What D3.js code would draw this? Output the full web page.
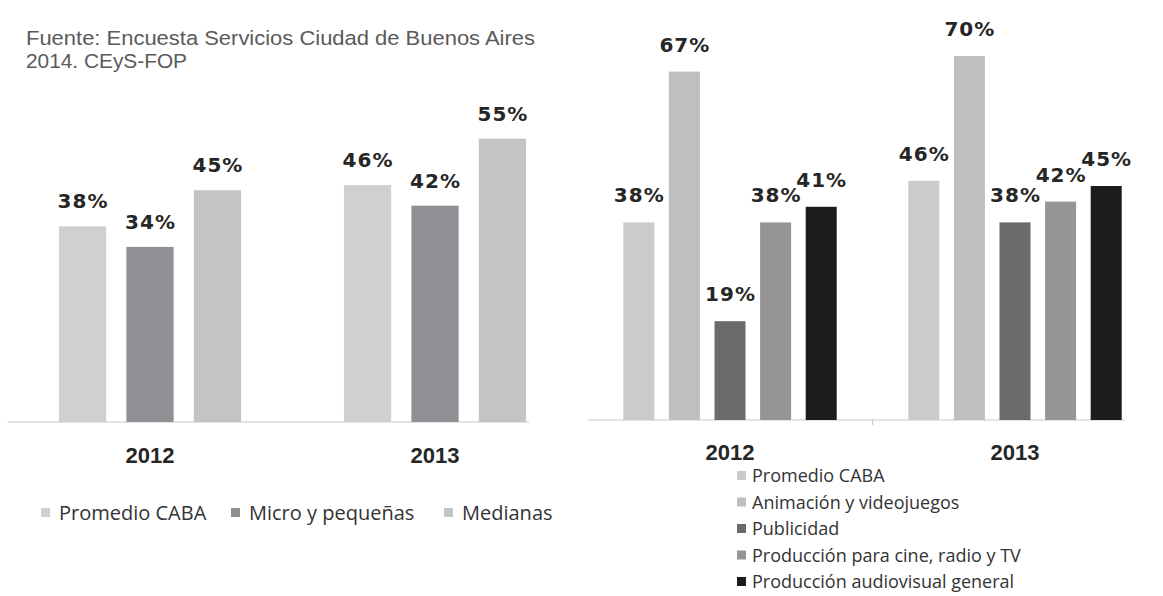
<!DOCTYPE html>
<html lang="es">
<head>
<meta charset="utf-8">
<title>Encuesta Servicios Ciudad de Buenos Aires 2014</title>
<script src="https://cdn.jsdelivr.net/npm/d3@7/dist/d3.min.js"></script>
<style>
  html, body { margin: 0; padding: 0; background: #ffffff; }
  svg { display: block; }
</style>
</head>
<body>
<svg id="chart" width="1163" height="596"></svg>
<script>
// ---- data ----
const years = ["2012", "2013"];

// left panel: by company size
const sizeSeries = ["Promedio CABA", "Micro y pequeñas", "Medianas"];
const sizeValues2012 = [38, 34, 45];
const sizeValues2013 = [46, 42, 55];

// right panel: by audiovisual sub-sector
const sectorSeries = [
  "Promedio CABA",
  "Animación y videojuegos",
  "Publicidad",
  "Producción para cine, radio y TV",
  "Producción audiovisual general"
];
const sectorValues2012 = [38, 67, 19, 38, 41];
const sectorValues2013 = [46, 70, 38, 42, 45];

const sourceLines = ["Fuente: Encuesta Servicios Ciudad de Buenos Aires", "2014. CEyS-FOP"];

// ---- styling ----
const sizeColors = ["#cfd0d2", "#8f9093", "#c3c4c6"];
const sectorColors = ["#cbcbcd", "#bfbfc1", "#6b6b6d", "#959597", "#1c1c1c"];
const valueFont = "'DejaVu Sans', sans-serif";
const yearFont = "'Liberation Sans', Arial, sans-serif";
const legendFont = "'Open Sans', sans-serif";

const svg = d3.select("#chart");

function rows(series, v12, v13) {
  const out = [];
  series.forEach((s, i) => {
    out.push({ year: "2012", series: s, value: v12[i], idx: i });
    out.push({ year: "2013", series: s, value: v13[i], idx: i });
  });
  return out;
}

function drawPanel(cfg) {
  const g = svg.append("g");
  const x0 = d3.scaleBand().domain(years).range(cfg.xRange);
  const x1 = d3.scaleBand().domain(cfg.series).range([0, x0.bandwidth()])
    .paddingInner(cfg.padInner).paddingOuter(cfg.padOuter);
  const y = d3.scaleLinear().domain([0, 100]).range([cfg.base, cfg.base - cfg.pxPerUnit * 100]);
  const color = d3.scaleOrdinal().domain(cfg.series).range(cfg.colors);
  const data = rows(cfg.series, cfg.v12, cfg.v13);

  // baseline
  const lastBar = cfg.series[cfg.series.length - 1];
  const lineEnd = x0(years[1]) + x1(lastBar) + x1.bandwidth() + 3;
  g.append("line")
    .attr("x1", x0.range()[0]).attr("x2", lineEnd)
    .attr("y1", y(0)).attr("y2", y(0))
    .attr("stroke", "#c8c8c8").attr("stroke-width", 1.2);
  if (cfg.midTick) {
    g.append("line")
      .attr("x1", x0(years[1])).attr("x2", x0(years[1]))
      .attr("y1", y(0)).attr("y2", y(0) + 5)
      .attr("stroke", "#c8c8c8").attr("stroke-width", 1);
  }

  // bars
  g.selectAll("rect.bar").data(data).join("rect")
    .attr("class", "bar")
    .attr("x", d => x0(d.year) + x1(d.series))
    .attr("width", x1.bandwidth())
    .attr("y", d => y(d.value))
    .attr("height", d => y(0) - y(d.value))
    .attr("fill", d => color(d.series));

  // value labels
  g.selectAll("text.val").data(data).join("text")
    .attr("class", "val")
    .attr("x", d => x0(d.year) + x1(d.series) + x1.bandwidth() / 2 + 0.5)
    .attr("y", d => y(d.value) - cfg.labelGap)
    .attr("text-anchor", "middle")
    .attr("font-family", valueFont)
    .attr("font-weight", "bold")
    .attr("font-size", cfg.valueSize)
    .attr("letter-spacing", 1)
    .attr("fill", "#262626")
    .text(d => d.value + "%");

  // category axis labels
  const axis = d3.axisBottom(x0).tickSize(0).tickPadding(cfg.yearPad);
  const ax = g.append("g").attr("transform", `translate(0,${y(0)})`).call(axis);
  ax.select(".domain").remove();
  ax.selectAll("text")
    .attr("font-family", yearFont)
    .attr("font-weight", "bold")
    .attr("font-size", 22)
    .attr("fill", "#262626");

  return { x0, x1, y, color };
}

// ---- source note ----
svg.selectAll("text.src").data(sourceLines).join("text")
  .attr("class", "src")
  .attr("x", 26)
  .attr("y", (d, i) => 45 + i * 23)
  .attr("font-family", "'Liberation Sans Narrow', 'Liberation Sans', Arial, sans-serif")
  .attr("font-size", 20.5)
  .attr("fill", "#5a5a5a")
  .attr("textLength", (d, i) => i === 0 ? 509 : 161)
  .attr("lengthAdjust", "spacingAndGlyphs")
  .text(d => d);

// ---- left panel ----
const left = drawPanel({
  series: sizeSeries, v12: sizeValues2012, v13: sizeValues2013, colors: sizeColors,
  xRange: [7.5, 577.5], padInner: 0.30, padOuter: 0.763,
  base: 422, pxPerUnit: 5.15, labelGap: 18, valueSize: 20, yearPad: 25, midTick: false
});

// ---- right panel ----
const right = drawPanel({
  series: sectorSeries, v12: sectorValues2012, v13: sectorValues2013, colors: sectorColors,
  xRange: [587.5, 1157.5], padInner: 0.32, padOuter: 0.785,
  base: 420, pxPerUnit: 5.2, labelGap: 20, valueSize: 20, yearPad: 24, midTick: true
});

// ---- legends ----
// left: single row
const leftLegendX = [41, 231, 444];
const leftLegend = svg.append("g").attr("transform", "translate(0,513)");
const li = leftLegend.selectAll("g").data(sizeSeries).join("g")
  .attr("transform", (d, i) => `translate(${leftLegendX[i]},0)`);
li.append("rect").attr("x", 0).attr("y", -5).attr("width", 9).attr("height", 9)
  .attr("fill", d => left.color(d));
li.append("text").attr("x", 18).attr("y", 0).attr("dy", "0.36em")
  .attr("font-family", legendFont).attr("font-size", 20).attr("fill", "#333")
  .text(d => d);

// right: vertical list
const rightLegend = svg.append("g").attr("transform", "translate(737,476)");
const ri = rightLegend.selectAll("g").data(sectorSeries).join("g")
  .attr("transform", (d, i) => `translate(0,${i * 26.5})`);
ri.append("rect").attr("x", 0).attr("y", -5).attr("width", 9).attr("height", 9)
  .attr("fill", d => right.color(d));
ri.append("text").attr("x", 15).attr("y", 0).attr("dy", "0.36em")
  .attr("font-family", legendFont).attr("font-size", 18).attr("fill", "#333")
  .text(d => d);
</script>
</body>
</html>
